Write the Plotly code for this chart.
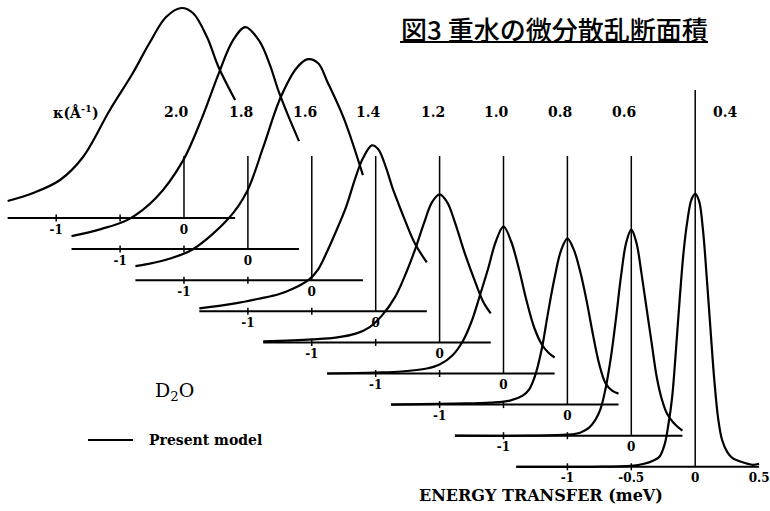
import plotly.graph_objects as go

# Momentum transfer of each spectrum, back (top-left) to front (bottom-right)
kappa = ["2.0", "1.8", "1.6", "1.4", "1.2", "1.0", "0.8", "0.6", "0.4"]

# Energy transfer (meV) and scattering intensity (arb. units) of each model spectrum
E_20 = [-1.38, -1.18, -0.97, -0.79, -0.58, -0.40, -0.27, -0.14, -0.02, 0.07, 0.18, 0.27, 0.40]
S_20 = [0.17, 0.25, 0.38, 0.61, 1.08, 1.45, 1.75, 2.01, 2.10, 2.05, 1.81, 1.51, 1.18]

E_18 = [-1.38, -1.15, -0.93, -0.72, -0.51, -0.36, -0.23, -0.12, -0.02, 0.09, 0.17, 0.24, 0.32, 0.40]
S_18 = [0.13, 0.20, 0.30, 0.51, 0.88, 1.31, 1.75, 2.08, 2.22, 2.08, 1.85, 1.58, 1.32, 1.08]

E_16 = [-1.38, -1.29, -1.10, -0.93, -0.65, -0.51, -0.38, -0.25, -0.12, -0.03, 0.05, 0.12, 0.25, 0.40]
S_16 = [0.14, 0.16, 0.22, 0.31, 0.62, 0.88, 1.33, 1.81, 2.12, 2.21, 2.17, 1.99, 1.62, 1.05]

E_14 = [-1.38, -1.10, -0.90, -0.76, -0.64, -0.52, -0.45, -0.39, -0.31, -0.23, -0.16, -0.10, -0.03,
        0.02, 0.08, 0.13, 0.18, 0.22, 0.31, 0.40]
S_14 = [0.03, 0.08, 0.13, 0.17, 0.23, 0.32, 0.42, 0.57, 0.80, 1.05, 1.33, 1.53, 1.66,
        1.62, 1.44, 1.24, 1.07, 0.94, 0.67, 0.49]

E_12 = [-1.38, -1.00, -0.80, -0.65, -0.55, -0.45, -0.35, -0.28, -0.20, -0.12, -0.06, 0.0,
        0.06, 0.12, 0.20, 0.28, 0.34, 0.40]
S_12 = [0.01, 0.03, 0.05, 0.09, 0.15, 0.27, 0.45, 0.64, 0.90, 1.20, 1.40, 1.48,
        1.40, 1.20, 0.88, 0.60, 0.41, 0.29]

E_10 = [-1.38, -1.00, -0.80, -0.60, -0.50, -0.40, -0.32, -0.25, -0.18, -0.12, -0.06, 0.0,
        0.06, 0.12, 0.18, 0.24, 0.30, 0.35, 0.40]
S_10 = [0.00, 0.01, 0.02, 0.05, 0.09, 0.18, 0.32, 0.52, 0.80, 1.05, 1.32, 1.47,
        1.32, 1.05, 0.73, 0.46, 0.29, 0.21, 0.16]

E_08 = [-1.38, -0.90, -0.60, -0.45, -0.35, -0.30, -0.25, -0.20, -0.15, -0.10, -0.05, 0.0,
        0.05, 0.10, 0.15, 0.20, 0.25, 0.30, 0.35, 0.40]
S_08 = [0.00, 0.01, 0.02, 0.04, 0.09, 0.15, 0.30, 0.56, 0.93, 1.27, 1.54, 1.66,
        1.55, 1.33, 1.04, 0.70, 0.40, 0.21, 0.14, 0.11]

E_06 = [-1.38, -0.80, -0.50, -0.40, -0.33, -0.28, -0.24, -0.20, -0.16, -0.12, -0.08, -0.04, 0.0,
        0.04, 0.08, 0.12, 0.16, 0.20, 0.24, 0.28, 0.33, 0.40]
S_06 = [0.00, 0.00, 0.01, 0.03, 0.08, 0.16, 0.27, 0.48, 0.78, 1.17, 1.60, 1.93, 2.06,
        1.93, 1.62, 1.27, 0.92, 0.58, 0.36, 0.22, 0.13, 0.05]

E_04 = [-1.40, -0.80, -0.50, -0.40, -0.33, -0.28, -0.24, -0.21, -0.18, -0.15, -0.12, -0.09, -0.06, -0.03, 0.0,
        0.03, 0.06, 0.09, 0.12, 0.15, 0.18, 0.21, 0.25, 0.29, 0.36, 0.45, 0.50]
S_04 = [0.00, 0.00, 0.01, 0.03, 0.06, 0.10, 0.22, 0.42, 0.70, 1.18, 1.70, 2.16, 2.47, 2.67, 2.73,
        2.66, 2.38, 1.90, 1.37, 0.86, 0.48, 0.27, 0.15, 0.09, 0.05, 0.02, 0.03]

energies = [E_20, E_18, E_16, E_14, E_12, E_10, E_08, E_06, E_04]
spectra = [S_20, S_18, S_16, S_14, S_12, S_10, S_08, S_06, S_04]

# Energy-axis extent of each panel and its tick labels
axis_lo = [-1.38] * 8 + [-1.40]
axis_hi = [0.40] * 8 + [0.50]
tick_vals = [[-1, 0]] * 8 + [[-1, -0.5, 0, 0.5]]
tick_text = [["-1", "0"]] * 8 + [["-1", "-0.5", "0", "0.5"]]
minor_ticks = [-1.0, -0.5]
# Height reached by the zero-energy marker of each panel
zero_top = [0.62] * 8 + [1.28]

# Oblique stacking of the panels
DX = 0.5      # meV shift per panel
DY = -0.311   # baseline drop per panel

# Page geometry
W, H = 770, 511
X_RANGE = [-1.4397, 4.5853]
Y_RANGE = [-2.93, 2.18]

INK = "black"
SERIF = "DejaVu Serif"

fig = go.Figure()

for i in range(len(kappa)):
    x0 = DX * i
    y0 = DY * i
    # baseline (energy axis)
    fig.add_trace(go.Scatter(
        x=[axis_lo[i] + x0, axis_hi[i] + x0], y=[y0, y0],
        mode="lines", line=dict(color=INK, width=2), hoverinfo="skip"))
    # zero-energy marker
    fig.add_trace(go.Scatter(
        x=[x0, x0], y=[y0, zero_top[i]],
        mode="lines", line=dict(color=INK, width=1.5), hoverinfo="skip"))
    # small tick marks
    fig.add_trace(go.Scatter(
        x=[t + x0 for t in minor_ticks], y=[y0] * len(minor_ticks),
        mode="markers",
        marker=dict(symbol="line-ns", size=5, line=dict(color=INK, width=1.5)),
        hoverinfo="skip"))
    # tick labels
    fig.add_trace(go.Scatter(
        x=[t + x0 for t in tick_vals[i]], y=[y0 - 0.125] * len(tick_vals[i]),
        mode="text", text=["<b>%s</b>" % t for t in tick_text[i]],
        textfont=dict(family=SERIF, size=12, color=INK),
        hoverinfo="skip"))

for i in range(len(kappa)):
    x0 = DX * i
    y0 = DY * i
    fig.add_trace(go.Scatter(
        x=[e + x0 for e in energies[i]], y=[s + y0 for s in spectra[i]],
        mode="lines", line=dict(color=INK, width=2.2, shape="spline", smoothing=1.0),
        hoverinfo="skip"))

# kappa labels above the stack
for i, k in enumerate(kappa):
    dx = 0.24 if i == len(kappa) - 1 else -0.055
    fig.add_annotation(x=DX * i + dx, y=1.06, text="<b>%s</b>" % k, showarrow=False,
                       xanchor="center", yanchor="middle",
                       font=dict(family=SERIF, size=14, color=INK))
fig.add_annotation(x=-0.845, y=1.06, text="<b>κ(Å<sup>-1</sup>)</b>", showarrow=False,
                   xanchor="center", yanchor="middle",
                   font=dict(family=SERIF, size=14, color=INK))


def px(x):
    return x / W


def py(y):
    return 1 - y / H


def page_text(x, y, text, size, family=SERIF, anchor="center", weight="normal"):
    fig.add_annotation(xref="paper", yref="paper", x=px(x), y=py(y),
                       xanchor=anchor, yanchor="middle", text=text, showarrow=False,
                       font=dict(family=family, size=size, color=INK, weight=weight))


# Title with underline
page_text(554, 29, "図3 重水の微分散乱断面積", 26, family="Noto Sans CJK JP", weight=500)
fig.add_shape(type="line", xref="paper", yref="paper",
              x0=px(400), x1=px(708), y0=py(42), y1=py(42),
              line=dict(color=INK, width=2))

# Sample name and line key
page_text(174, 391, "D<sub>2</sub>O", 19)
fig.add_shape(type="line", xref="paper", yref="paper",
              x0=px(88), x1=px(133), y0=py(440), y1=py(440),
              line=dict(color=INK, width=2))
page_text(147, 440, "<b>Present model</b>", 14, anchor="left")

# Energy axis title
page_text(541, 495, "<b>ENERGY TRANSFER (meV)</b>", 16)

fig.update_layout(
    width=W, height=H, autosize=False,
    margin=dict(l=0, r=0, t=0, b=0),
    paper_bgcolor="white", plot_bgcolor="white",
    showlegend=False,
    xaxis=dict(range=X_RANGE, visible=False, fixedrange=True),
    yaxis=dict(range=Y_RANGE, visible=False, fixedrange=True),
)

fig.write_html("out.html")
